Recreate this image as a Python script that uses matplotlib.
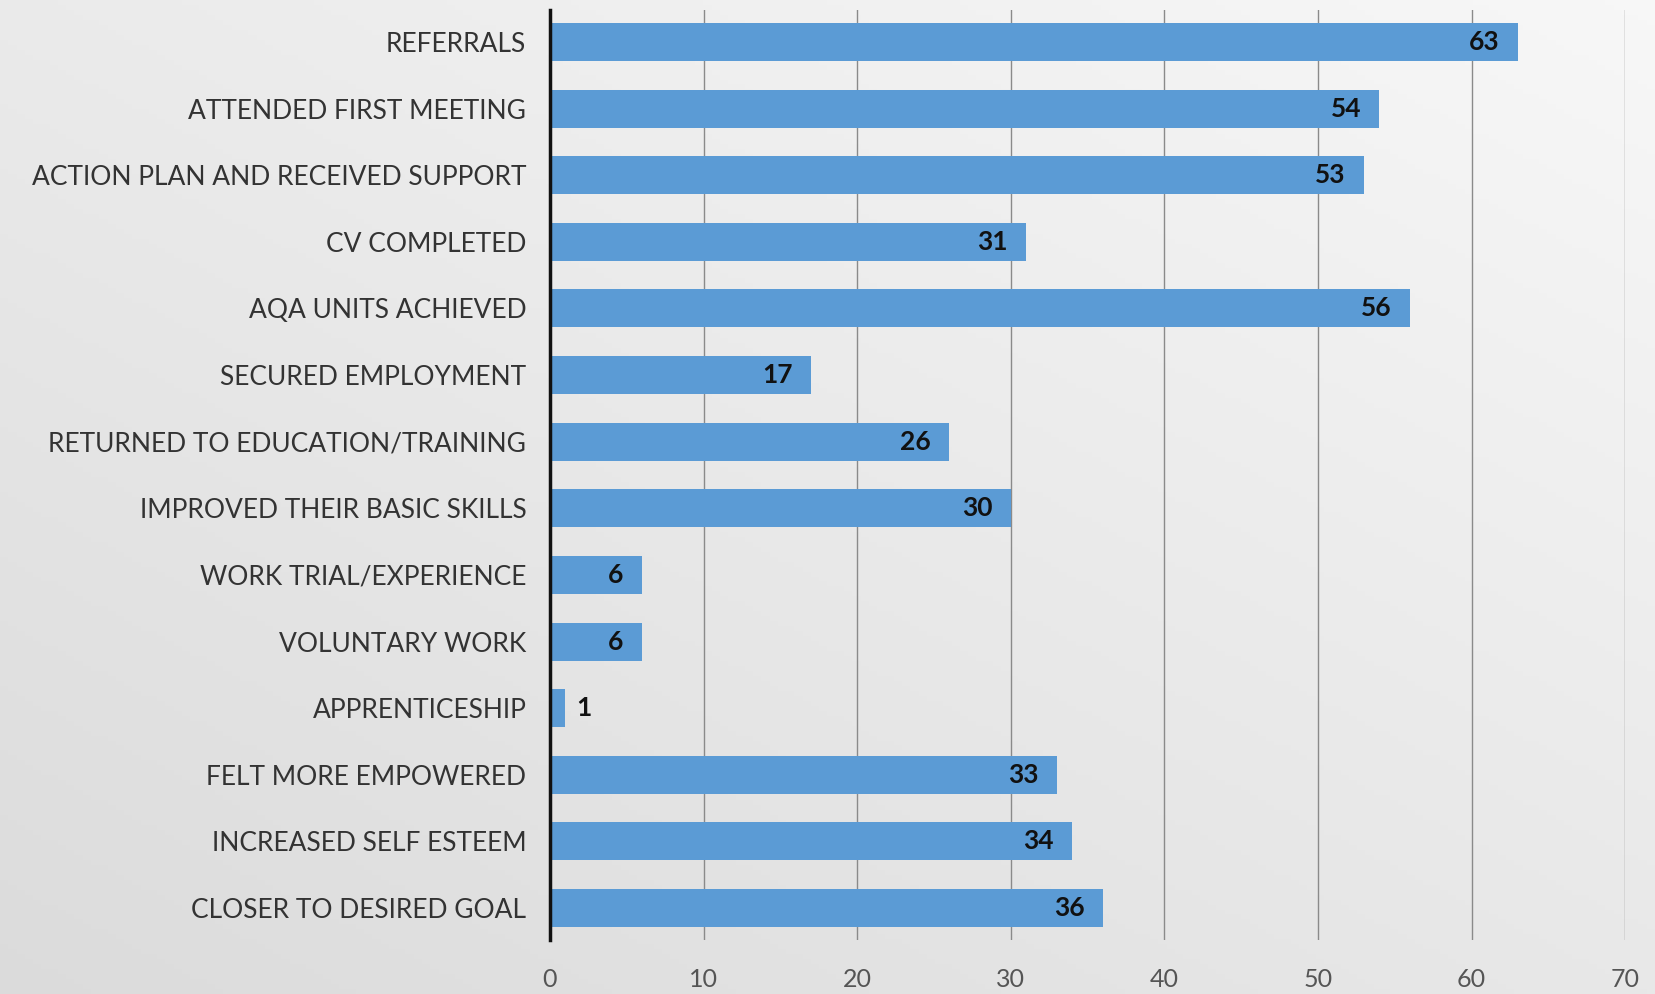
import numpy as np
import matplotlib.pyplot as plt

categories = [
    "REFERRALS",
    "ATTENDED FIRST MEETING",
    "ACTION PLAN AND RECEIVED SUPPORT",
    "CV COMPLETED",
    "AQA UNITS ACHIEVED",
    "SECURED EMPLOYMENT",
    "RETURNED TO EDUCATION/TRAINING",
    "IMPROVED THEIR BASIC SKILLS",
    "WORK TRIAL/EXPERIENCE",
    "VOLUNTARY WORK",
    "APPRENTICESHIP",
    "FELT MORE EMPOWERED",
    "INCREASED SELF ESTEEM",
    "CLOSER TO DESIRED GOAL",
]
values = [63, 54, 53, 31, 56, 17, 26, 30, 6, 6, 1, 33, 34, 36]
x_ticks = [0, 10, 20, 30, 40, 50, 60, 70]

plt.rcParams['font.family'] = ['Lato', 'DejaVu Sans']

fig = plt.figure(figsize=(16.55, 9.94), dpi=100)

# grey gradient backdrop, lighter towards the upper right
bg = fig.add_axes([0, 0, 1, 1], zorder=-10)
gx, gy = np.meshgrid(np.linspace(0, 1, 200), np.linspace(0, 1, 200))
shade = 0.86 + 0.05 * gx + 0.06 * (1 - gy)
bg.imshow(np.dstack([shade, shade, shade]), aspect='auto', extent=[0, 1, 0, 1])
bg.axis('off')

ax = fig.add_axes([0.3323, 0.0543, 0.6497, 0.9357])
ax.patch.set_alpha(0)

y = np.arange(len(categories))
bars = ax.barh(y, values, height=0.57, color='#5b9bd5', zorder=3)

for b, v in zip(bars, values):
    if v >= 5:
        ax.text(v - 1.2, b.get_y() + b.get_height() / 2, str(v), ha='right', va='center',
                fontsize=19, fontweight='bold', color='#111111', zorder=4)
    else:
        ax.text(v + 0.7, b.get_y() + b.get_height() / 2, str(v), ha='left', va='center',
                fontsize=19, fontweight='bold', color='#111111', zorder=4)

ax.set_xlim(0, 70)
ax.set_ylim(len(categories) - 0.52, -0.48)
ax.set_xticks(x_ticks)
ax.set_yticks(y)
ax.set_yticklabels(categories)
ax.tick_params(axis='y', length=0, pad=17, labelsize=19, labelcolor='#333333')
ax.tick_params(axis='x', length=0, pad=20, labelsize=18, labelcolor='#555555')
ax.grid(axis='x', color='#8a8a8a', linewidth=1.0, zorder=0)

for side in ['top', 'right', 'bottom']:
    ax.spines[side].set_visible(False)
ax.spines['left'].set_color('#111111')
ax.spines['left'].set_linewidth(2.5)
ax.spines['left'].set_zorder(5)

fig.savefig('out.png', dpi=100)
